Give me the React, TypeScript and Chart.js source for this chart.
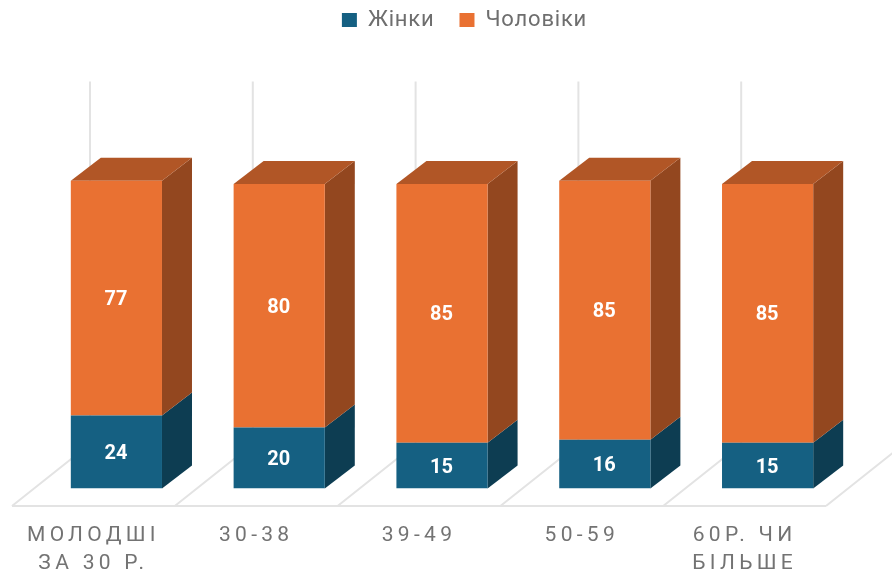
import React, { useEffect, useRef } from "react";
import { Chart, registerables } from "chart.js";

Chart.register(...registerables);

const categories: (string | string[])[] = [["МОЛОДШІ", "ЗА 30 Р."], "30-38", "39-49", "50-59", ["60Р. ЧИ", "БІЛЬШЕ"]];
const women = [24, 20, 15, 16, 15];
const men = [77, 80, 85, 85, 85];
const yMax = 119;

const BLUE = "#156082";
const ORANGE = "#E97132";
const BLUE_SIDE = "#0D3D52";
const ORANGE_SIDE = "#93471F";
const ORANGE_TOP = "#B15626";
const GRID = "#E3E3E3";
const FONT = "Roboto";

const DEPTH_X = 30;
const DEPTH_Y = 23;
const FRONT_DX = -23;
const FRONT_DY = 17.5;
const BACK_DX = 55;
const BACK_DY = -44.5;

const poly = (ctx: CanvasRenderingContext2D, pts: number[][], fill: string) => {
  ctx.beginPath();
  pts.forEach(([x, y], i) => (i ? ctx.lineTo(x, y) : ctx.moveTo(x, y)));
  ctx.closePath();
  ctx.fillStyle = fill;
  ctx.fill();
};

const withSpacing = (ctx: any, s: string, fn: () => void) => {
  const old = ctx.letterSpacing;
  ctx.letterSpacing = s;
  fn();
  ctx.letterSpacing = old;
};

const scenePlugin = {
  id: "scene3d",
  beforeLayout(chart: any) {
    const l = chart.legend;
    if (l && !l.__patched) {
      l.__patched = true;
      const fit = l.fit.bind(l);
      l.fit = () => {
        withSpacing(chart.ctx, "0.8px", fit);
        l.height = 126;
      };
      const draw = l.draw.bind(l);
      l.draw = () => withSpacing(chart.ctx, "0.8px", draw);
    }
  },
  afterLayout(chart: any) {
    const l = chart.legend;
    l.left += 45;
    l.top -= 16;
    const x = chart.scales.x;
    if (!x.__patched) {
      x.__patched = true;
      const dl = x.drawLabels.bind(x);
      x.drawLabels = (a: any) => withSpacing(chart.ctx, "4.3px", () => dl(a));
    }
  },
  beforeDatasetsDraw(chart: any) {
    const { ctx, scales } = chart;
    const x = scales.x;
    const y = scales.y;
    const n = categories.length;
    const step = x.getPixelForValue(1) - x.getPixelForValue(0);
    const edge = (i: number) => x.getPixelForValue(0) - step / 2 + i * step;
    const base = y.getPixelForValue(0);
    const top = y.getPixelForValue(yMax);
    ctx.save();
    ctx.strokeStyle = GRID;
    ctx.lineWidth = 2;
    for (let i = 0; i <= n; i++) {
      ctx.beginPath();
      ctx.moveTo(edge(i) + FRONT_DX, base + FRONT_DY);
      ctx.lineTo(edge(i) + BACK_DX, base + BACK_DY);
      ctx.lineTo(edge(i) + BACK_DX, top + BACK_DY);
      ctx.stroke();
    }
    ctx.beginPath();
    ctx.moveTo(edge(0) + FRONT_DX, base + FRONT_DY);
    ctx.lineTo(edge(n) + FRONT_DX, base + FRONT_DY);
    ctx.stroke();

    chart.data.datasets.forEach((ds: any, di: number) => {
      const side = di === 0 ? BLUE_SIDE : ORANGE_SIDE;
      chart.getDatasetMeta(di).data.forEach((bar: any) => {
        const p = bar.getProps(["x", "y", "base", "width"], true);
        const r = p.x + p.width / 2;
        const l = p.x - p.width / 2;
        poly(ctx, [[r, p.y], [r + DEPTH_X, p.y - DEPTH_Y], [r + DEPTH_X, p.base - DEPTH_Y], [r, p.base]], side);
        if (di === chart.data.datasets.length - 1) {
          poly(ctx, [[l, p.y], [l + DEPTH_X, p.y - DEPTH_Y], [r + DEPTH_X, p.y - DEPTH_Y], [r, p.y]], ORANGE_TOP);
        }
      });
    });
    ctx.restore();
  },
  afterDatasetsDraw(chart: any) {
    const { ctx } = chart;
    ctx.save();
    ctx.font = `bold 20px ${FONT}`;
    ctx.fillStyle = "#FFFFFF";
    ctx.textAlign = "center";
    ctx.textBaseline = "middle";
    chart.data.datasets.forEach((ds: any, di: number) => {
      chart.getDatasetMeta(di).data.forEach((bar: any, i: number) => {
        const p = bar.getProps(["x", "y", "base"], true);
        ctx.fillText(String(ds.data[i]), p.x - 0.5, (p.y + p.base) / 2 + 2);
      });
    });
    ctx.restore();
  },
};

export default function App() {
  const ref = useRef<HTMLCanvasElement>(null);
  useEffect(() => {
    const chart = new Chart(ref.current!, {
      type: "bar",
      data: {
        labels: categories as any,
        datasets: [
          { label: "Жінки", data: women, backgroundColor: BLUE, categoryPercentage: 1, barPercentage: 0.56 },
          { label: "Чоловіки", data: men, backgroundColor: ORANGE, categoryPercentage: 1, barPercentage: 0.56 },
        ],
      },
      plugins: [scenePlugin as any],
      options: {
        responsive: false,
        animation: false,
        devicePixelRatio: 1,
        layout: { padding: { left: 35, right: 43, top: 0, bottom: 0 } },
        plugins: {
          legend: {
            position: "top",
            labels: {
              boxWidth: 15,
              boxHeight: 14,
              padding: 25,
              color: "#6E6E6E",
              font: { family: FONT, size: 22 },
            },
          },
          tooltip: { enabled: false },
        },
        scales: {
          x: {
            stacked: true,
            grid: { display: false },
            border: { display: false },
            afterFit: (s: any) => {
              s.height = 84.5;
            },
            ticks: {
              autoSkip: false,
              maxRotation: 0,
              minRotation: 0,
              labelOffset: FRONT_DX,
              padding: 25,
              color: "#737373",
              font: { family: FONT, size: 21, lineHeight: 1.35 },
            },
          },
          y: { stacked: true, display: false, min: 0, max: yMax },
        },
      },
    });
    return () => chart.destroy();
  }, []);
  return <canvas ref={ref} width={892} height={573} style={{ position: "absolute", left: 0, top: 0, width: 892, height: 573 }} />;
}
